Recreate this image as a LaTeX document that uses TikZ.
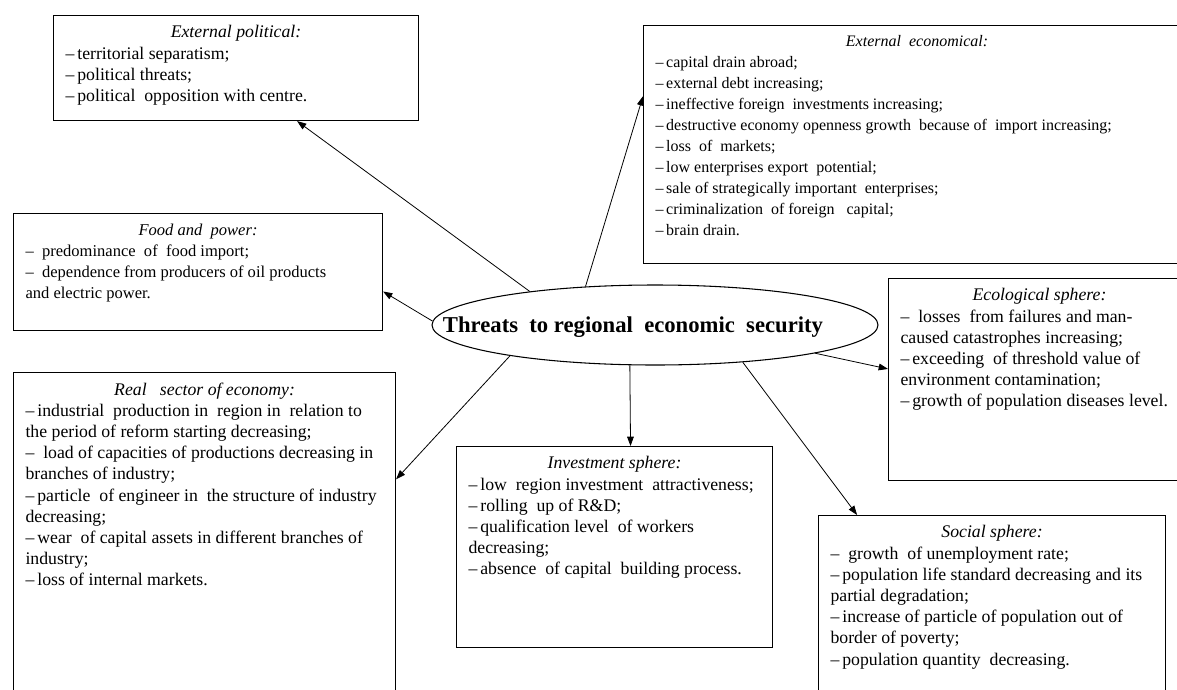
\documentclass[tikz,border=0pt]{standalone}
\usepackage{fontspec}
\setmainfont{Liberation Serif}
\usetikzlibrary{arrows.meta,shapes.geometric}

\newdimen\px \px=0.75pt
% box content: width, height (in px), title, lines
\newcommand{\sphere}[4]{\parbox[t][#2\px][t]{#1\px}{\centering\textit{#3}\par\raggedright\begin{tabular}[t]{@{}l@{}}#4\end{tabular}}}

\tikzset{
  box/.style={draw, line width=0.8pt, anchor=north west, inner xsep=12\px, inner ysep=10\px,
    font=\fontsize{13.3}{15.9}\selectfont},
  core/.style={draw, ellipse, line width=0.8pt, minimum width=446\px, minimum height=80\px, inner sep=0pt},
  link/.style={-{Triangle[length=7pt,width=5pt]}, line width=0.6pt}
}

\begin{document}
\begin{tikzpicture}[x=0.75pt, y=-0.75pt]
  \clip (0,0) rectangle (1177,689);

  % Centre
  \node[core] (core) at (655,325) {};
  \node[font=\fontsize{17}{20}\selectfont\bfseries] (core-t) at (633,327) {Threats\ \ to regional\ \ economic\ \ security};

  % Spheres
  \node[box] (pol) at (53,15) {\sphere{341}{85}{External political:}{%
    --\,territorial separatism;\\
    --\,political threats;\\
    --\,political\ \ opposition with centre.}};

  \node[box, font=\fontsize{12}{15.7}\selectfont] (econ) at (643,25) {\sphere{523}{218}{External\ \ economical:}{%
    --\,capital drain abroad;\\
    --\,external debt increasing;\\
    --\,ineffective foreign\ \ investments increasing;\\
    --\,destructive economy openness growth\ \ because of\ \ import increasing;\\
    --\,loss\ \ of\ \ markets;\\
    --\,low enterprises export\ \ potential;\\
    --\,sale of strategically important\ \ enterprises;\\
    --\,criminalization\ \ of foreign\ \ \ capital;\\
    --\,brain drain.}};

  \node[box, font=\fontsize{12.4}{15.9}\selectfont] (food) at (13,213) {\sphere{345}{97}{Food and\ \ power:}{%
    --\ \ predominance\ \ of\ \ food import;\\
    --\ \ dependence from producers of oil products\\
    and electric power.}};

  \node[box] (real) at (13,372) {\sphere{358}{318}{Real\ \ \ sector of economy:}{%
    --\,industrial\ \ production in\ \ region in\ \ relation to\\
    the period of reform starting decreasing;\\
    --\ \ load of capacities of productions decreasing in\\
    branches of industry;\\
    --\,particle\ \ of engineer in\ \ the structure of industry\\
    decreasing;\\
    --\,wear\ \ of capital assets in different branches of\\
    industry;\\
    --\,loss of internal markets.}};

  \node[box] (inv) at (456,446) {\sphere{292}{181}{Investment sphere:}{%
    --\,low\ \ region investment\ \ attractiveness;\\
    --\,rolling\ \ up of R\&D;\\
    --\,qualification level\ \ of workers\\
    decreasing;\\
    --\,absence\ \ of capital\ \ building process.}};

  \node[box] (eco) at (888,278) {\sphere{278}{182}{Ecological sphere:}{%
    --\ \ losses\ \ from failures and man-\\
    caused catastrophes increasing;\\
    --\,exceeding\ \ of threshold value of\\
    environment contamination;\\
    --\,growth of population diseases level.}};

  \node[box] (soc) at (818,515) {\sphere{323}{175}{Social sphere:}{%
    --\ \ growth\ \ of unemployment rate;\\
    --\,population life standard decreasing and its\\
    partial degradation;\\
    --\,increase of particle of population out of\\
    border of poverty;\\
    --\,population quantity\ \ decreasing.}};

  % Links
  \draw[link] (core.165.5) -- (pol.-41.4);
  \draw[link] (core.151) -- (econ.170.2);
  \draw[link] (core.179.2) -- (food.-6.3);
  \draw[link] (core.192.7) -- (real.18.3);
  \draw[link] (core.238) -- (inv.81);
  \draw[link] (core.-10.4) -- (eco.176.6);
  \draw[link] (core.-23.6) -- (soc.144.5);
\end{tikzpicture}
\end{document}
